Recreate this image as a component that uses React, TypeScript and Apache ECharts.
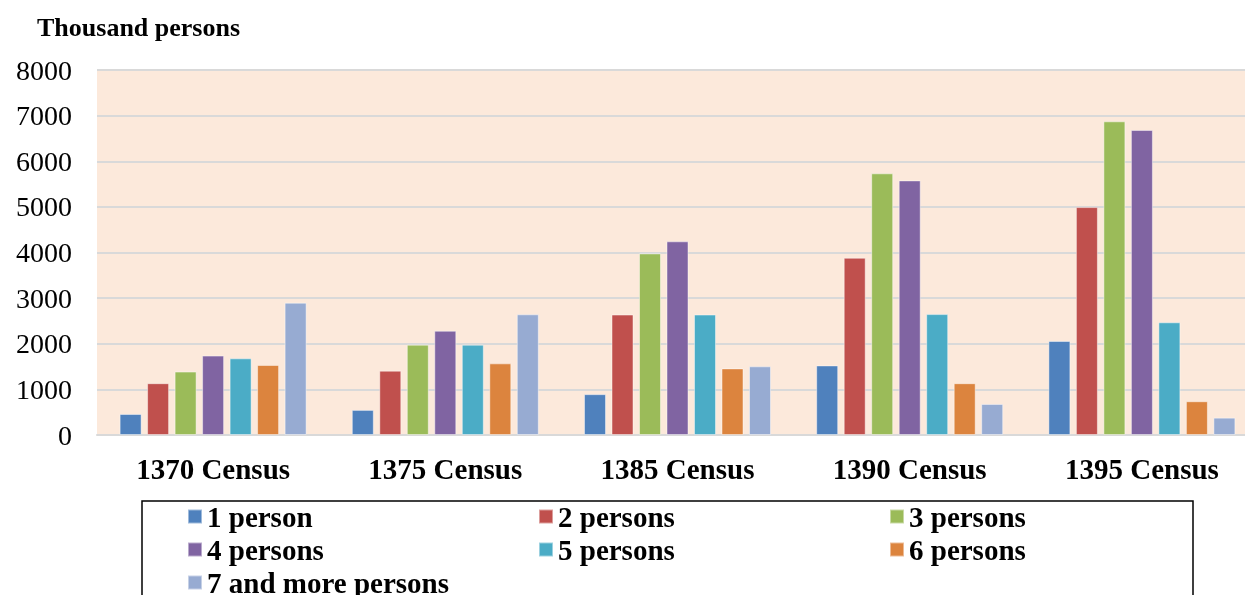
import React, { useEffect, useRef } from "react";
import * as echarts from "echarts";

const categories = ["1370 Census", "1375 Census", "1385 Census", "1390 Census", "1395 Census"];
const seriesNames = ["1 person", "2 persons", "3 persons", "4 persons", "5 persons", "6 persons", "7 and more persons"];
const onePerson = [460, 550, 895, 1525, 2060];
const twoPersons = [1135, 1410, 2640, 3885, 4995];
const threePersons = [1390, 1980, 3980, 5735, 6875];
const fourPersons = [1740, 2285, 4245, 5580, 6685];
const fivePersons = [1680, 1980, 2640, 2650, 2470];
const sixPersons = [1535, 1570, 1460, 1135, 740];
const sevenPlus = [2900, 2645, 1505, 680, 380];
const yTicks = [0, 1000, 2000, 3000, 4000, 5000, 6000, 7000, 8000];
const legendRows = [
  ["1 person", "2 persons", "3 persons"],
  ["4 persons", "5 persons", "6 persons"],
  ["7 and more persons"],
];

const colors = ["#4F81BD", "#C0504D", "#9BBB59", "#8064A2", "#4BACC6", "#DC843E", "#97ABD2"];

export default function App() {
  const ref = useRef<HTMLDivElement>(null);
  useEffect(() => {
    if (!ref.current) return;
    const chart = echarts.init(ref.current, null, { renderer: "svg" });
    const values = [onePerson, twoPersons, threePersons, fourPersons, fivePersons, sixPersons, sevenPlus];
    const font = "'Liberation Serif', 'Times New Roman', serif";
    const legendCommon = {
      orient: "horizontal",
      itemWidth: 14,
      itemHeight: 14,
      itemGap: 0,
      icon: "rect",
      left: 187,
      padding: 0,
      textStyle: { fontFamily: font, fontSize: 29, fontWeight: "bold", color: "#000", lineHeight: 26, width: 331 },
      selectedMode: false,
    };
    chart.setOption({
      animation: false,
      color: colors,
      title: {
        text: "Thousand persons",
        left: 32,
        top: 9,
        textStyle: { fontFamily: font, fontSize: 26, fontWeight: "bold", color: "#000" },
      },
      grid: {
        left: 97,
        width: 1161,
        top: 70,
        bottom: 160,
        show: true,
        backgroundColor: "#FCE9DB",
        borderWidth: 0,
        containLabel: false,
        outerBoundsMode: "none",
      },
      legend: legendRows.map((row, r) => ({ ...legendCommon, top: 502 + r * 33, data: row })),
      xAxis: {
        type: "category",
        data: categories,
        axisTick: { show: false },
        axisLine: { lineStyle: { color: "#D9D9D9", width: 2 } },
        axisLabel: { fontFamily: font, fontSize: 29, fontWeight: "bold", color: "#000", margin: 19 },
      },
      yAxis: {
        type: "value",
        min: yTicks[0],
        max: yTicks[yTicks.length - 1],
        interval: 1000,
        axisLine: { show: false },
        axisTick: { show: false },
        splitLine: { lineStyle: { color: "#D9D9D9", width: 2 } },
        axisLabel: { fontFamily: font, fontSize: 28, color: "#000", margin: 25, formatter: (v: number) => String(v) },
      },
      graphic: [
        {
          type: "rect",
          shape: { x: 142, y: 501, width: 1051, height: 110 },
          style: { fill: "none", stroke: "#000", lineWidth: 1.5 },
          silent: true,
        },
      ],
      series: seriesNames.map((name, i) => ({
        name,
        type: "bar",
        data: values[i],
        barWidth: 22,
        barGap: "25%",
        itemStyle: { color: colors[i], borderColor: "rgba(255,255,255,0.45)", borderWidth: 1 },
      })),
    } as any);
    return () => chart.dispose();
  }, []);
  return <div ref={ref} style={{ position: "fixed", left: 0, top: 0, width: 1245, height: 595, overflow: "hidden" }} />;
}
